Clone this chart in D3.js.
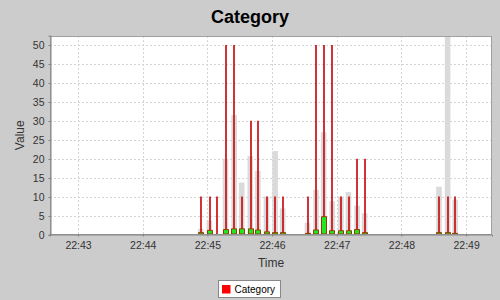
<!DOCTYPE html>
<html>
<head>
<meta charset="utf-8">
<script src="https://cdn.jsdelivr.net/npm/d3@7"></script>
<style>
  html, body { margin: 0; padding: 0; background: #cccccc; }
  svg { display: block; font-family: "Liberation Sans", Arial, sans-serif; }
</style>
</head>
<body>
<svg id="chart" width="500" height="300"></svg>
<script>
// ---- data ----
const times = [
  "22:42:52","22:43:00","22:43:07","22:43:15","22:43:23","22:43:30","22:43:38","22:43:45",
  "22:43:53","22:44:01","22:44:08","22:44:16","22:44:24","22:44:31","22:44:39","22:44:46",
  "22:44:54","22:45:02","22:45:09","22:45:17","22:45:25","22:45:32","22:45:40","22:45:47",
  "22:45:55","22:46:03","22:46:10","22:46:18","22:46:25","22:46:33","22:46:41","22:46:48",
  "22:46:56","22:47:04","22:47:11","22:47:19","22:47:26","22:47:34","22:47:42","22:47:49",
  "22:47:57","22:48:05","22:48:12","22:48:20","22:48:27","22:48:35","22:48:43","22:48:50",
  "22:48:58"
];
const highs = [
  0,0,0,0,0,0,0,0, 0,0,0,0,0,0,0,0,
  10,10,10,50,50,10,30,30, 10,10,10,0,0,10,50,50,
  50,10,10,20,20,0,0,0, 0,0,0,0,0,10,10,10,
  0
];
const opens = [
  0,0,0,0,0,0,0,0, 0,0,0,0,0,0,0,0,
  0,0,0,0,0,0,0,0, 0,0,0,0,0,0,0,0,
  0,0,0,0,0,0,0,0, 0,0,0,0,0,0,0,0,
  0
];
const closes = [
  0,0,0,0,0,0,0,0, 0,0,0,0,0,0,0,0,
  0.5,1.1,0,1.3,1.5,1.5,1.5,1.2, 0.7,0.5,0.5,0,0,0.3,1.2,4.7,
  1.0,1.0,1.0,1.3,0.5,0,0,0, 0,0,0,0,0,0.5,0.5,0.3,
  0
];
const volumes = [
  0,0,0,0,0,0,0,0, 0,0,0,0,0,0,0,0,
  1.5,3.7,0,20,31.5,13.7,20.7,16.8, 10,22,6.9,0,0,3.1,11.8,27,
  8.8,10,11.2,7.6,5.6,0,0,0, 0,0,0,0,0,12.6,55,9.2,
  0
];
const yTicks = [0,5,10,15,20,25,30,35,40,45,50];
const xTickLabels = ["22:43","22:44","22:45","22:46","22:47","22:48","22:49"];
const title = "Category";
const xLabel = "Time";
const yLabel = "Value";
const legendLabel = "Category";

// ---- layout ----
const parse = d3.timeParse("%H:%M:%S");
const parseHM = d3.timeParse("%H:%M");
const plot = { left: 50, right: 492, top: 36, bottom: 234.5 };

const data = times.map((t, i) => ({
  t: parse(t), high: highs[i], low: 0, open: opens[i], close: closes[i], vol: volumes[i]
}));

const x = d3.scaleTime()
  .domain([parse("22:42:34"), parse("22:49:24")])
  .range([plot.left, plot.right]);
const y = d3.scaleLinear().domain([0, 52.5]).range([plot.bottom, plot.top - 0.4]);

const svg = d3.select("#chart");
svg.append("rect").attr("width", 500).attr("height", 300).attr("fill", "#cccccc");

// title
svg.append("text").attr("x", 250).attr("y", 23).attr("text-anchor", "middle")
  .attr("font-size", 18).attr("font-weight", "bold").attr("fill", "#000").text(title);

// plot background
svg.append("rect").attr("x", plot.left).attr("y", plot.top)
  .attr("width", plot.right - plot.left).attr("height", plot.bottom - plot.top)
  .attr("fill", "#ffffff");

svg.append("clipPath").attr("id", "clip").append("rect")
  .attr("x", plot.left).attr("y", plot.top)
  .attr("width", plot.right - plot.left).attr("height", plot.bottom - plot.top);

// gridlines
const grid = svg.append("g").attr("stroke", "#d4d4d4").attr("stroke-width", 1)
  .attr("stroke-dasharray", "2,2");
yTicks.forEach(v => {
  const yy = Math.round(y(v)) + 0.5;
  grid.append("line").attr("x1", plot.left).attr("x2", plot.right).attr("y1", yy).attr("y2", yy);
});
xTickLabels.forEach(l => {
  const xx = Math.round(x(parseHM(l))) + 0.5;
  grid.append("line").attr("x1", xx).attr("x2", xx).attr("y1", plot.top).attr("y2", plot.bottom);
});

const g = svg.append("g").attr("clip-path", "url(#clip)");

// volume bars
g.selectAll("rect.vol").data(data.filter(d => d.vol > 0)).join("rect")
  .attr("class", "vol")
  .attr("x", d => x(d.t) - 3).attr("width", 5.6)
  .attr("y", d => y(d.vol)).attr("height", d => y(0) - y(d.vol))
  .attr("fill", "#dadada");

// high-low lines
g.selectAll("line.hl").data(data.filter(d => d.high > d.low)).join("line")
  .attr("class", "hl")
  .attr("x1", d => Math.round(x(d.t))).attr("x2", d => Math.round(x(d.t)))
  .attr("y1", d => y(d.low)).attr("y2", d => y(d.high))
  .attr("stroke", "#c81010").attr("stroke-width", 1.7);

// candle bodies
g.selectAll("path.body").data(data).join("path")
  .attr("class", "body")
  .attr("d", d => {
    const x0 = Math.round(x(d.t)) - 2.5;
    const yTop = y(Math.max(d.open, d.close));
    const yBot = Math.min(y(Math.min(d.open, d.close)), plot.bottom - 0.5);
    const h = Math.max(0, yBot - yTop);
    return `M${x0},${yTop}h5v${h}h-5Z`;
  })
  .attr("fill", d => d.close > d.open ? "#22e622" : "#cc2200")
  .attr("stroke", d => d.close > d.open ? "#9a3a00" : "#d05050")
  .attr("stroke-width", 1);

// plot outline
svg.append("rect").attr("x", plot.left + 0.5).attr("y", plot.top + 0.5)
  .attr("width", plot.right - plot.left - 1).attr("height", plot.bottom - plot.top - 0.5)
  .attr("fill", "none").attr("stroke", "#a0a0a0");

// y axis
const yAxis = svg.append("g").attr("transform", `translate(${plot.left + 0.5},0)`)
  .call(d3.axisLeft(y).tickValues(yTicks).tickSize(2).tickPadding(4).tickFormat(d3.format("d")));
yAxis.select(".domain").attr("stroke", "#808080");
yAxis.selectAll(".tick line").attr("stroke", "#808080");
yAxis.selectAll(".tick text").attr("font-size", 10.5).attr("fill", "#333")
  .attr("font-family", "Liberation Sans, Arial, sans-serif");
yAxis.selectAll(".tick").attr("transform", d => `translate(0,${Math.round(y(d)) + 0.5})`);

// x axis
const xAxis = svg.append("g").attr("transform", `translate(0,${plot.bottom})`)
  .call(d3.axisBottom(x).tickValues(xTickLabels.map(l => parseHM(l))).tickSize(2)
    .tickPadding(5).tickFormat(d3.timeFormat("%H:%M")));
xAxis.select(".domain").attr("stroke", "#808080");
xAxis.selectAll(".tick line").attr("stroke", "#808080");
xAxis.selectAll(".tick text").attr("font-size", 10.5).attr("fill", "#333")
  .attr("font-family", "Liberation Sans, Arial, sans-serif");

// axis labels
svg.append("text").attr("x", (plot.left + plot.right) / 2).attr("y", 267)
  .attr("text-anchor", "middle").attr("font-size", 12).attr("fill", "#333").text(xLabel);
svg.append("text").attr("transform", `translate(24,${(plot.top + plot.bottom) / 2}) rotate(-90)`)
  .attr("text-anchor", "middle").attr("font-size", 12).attr("fill", "#333").text(yLabel);

// legend
const lg = svg.append("g");
lg.append("rect").attr("x", 218.5).attr("y", 280.5).attr("width", 62).attr("height", 17)
  .attr("fill", "#ffffff").attr("stroke", "#888888");
lg.append("rect").attr("x", 222).attr("y", 285).attr("width", 8.5).attr("height", 8.5)
  .attr("fill", "#ff0000");
lg.append("text").attr("x", 234.5).attr("y", 293).attr("font-size", 10).attr("fill", "#000")
  .text(legendLabel);
</script>
</body>
</html>
